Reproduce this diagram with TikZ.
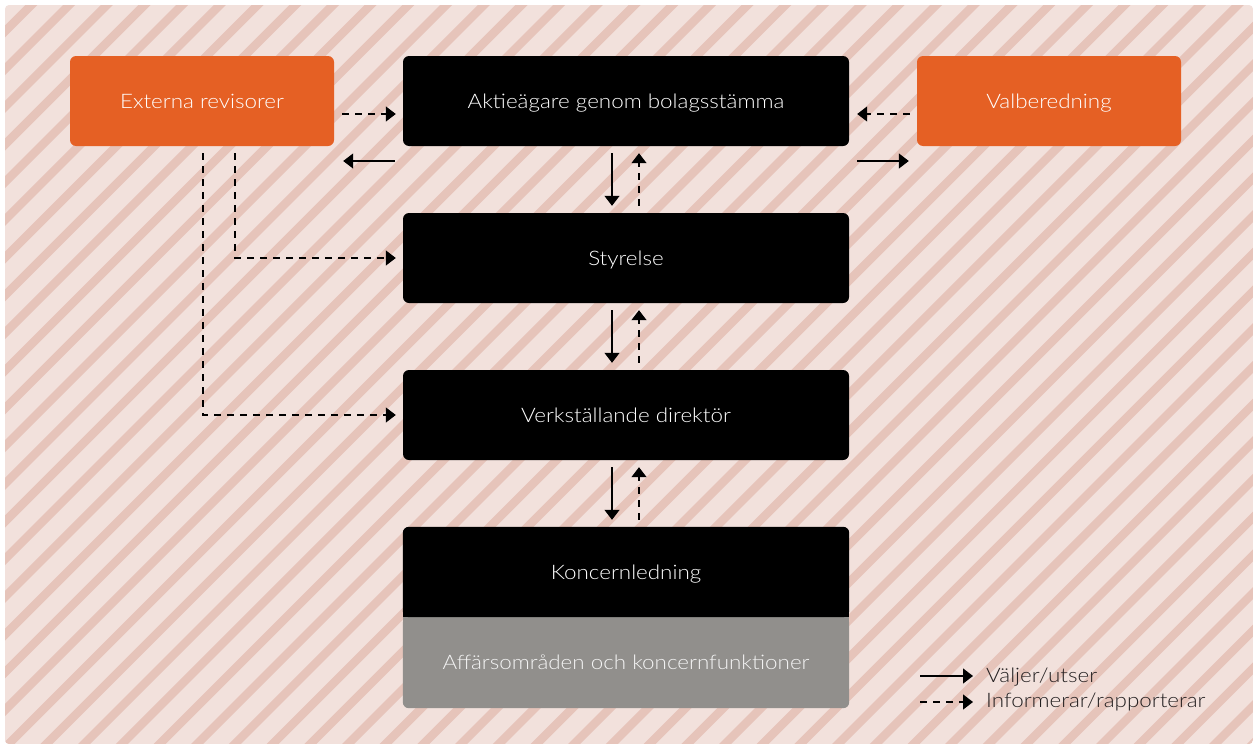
\documentclass[tikz,border=0pt]{standalone}
\usepackage{fontspec}
\setmainfont{Lato}[UprightFont=* Light, FakeStretch=1.12]
\usetikzlibrary{arrows.meta,calc}
\definecolor{bgpink}{HTML}{F2E1DC}
\definecolor{stripe}{HTML}{E6C4BA}
\definecolor{orng}{HTML}{E56024}
\definecolor{grayc}{HTML}{918F8C}
\definecolor{txtdark}{HTML}{231F20}
\pgfdeclarelayer{bgzero}
\pgfdeclarelayer{bgone}
\pgfsetlayers{bgzero,bgone,main}
\tikzset{
  box/.style={draw=none, inner sep=0pt, minimum width=446pt, minimum height=90pt, text=white, text height=16pt, text depth=2pt, font=\fontsize{20}{23}\selectfont},
  obox/.style={box, fill=orng, rounded corners=6pt, minimum width=264pt},
  bbox/.style={box, fill=black, rounded corners=6pt},
  sol/.style={line width=1.3pt, black, -{Triangle[length=10pt,width=15pt]}},
  dsh/.style={sol, dash pattern=on 7pt off 6pt},
  leg/.style={anchor=west, inner sep=0pt, text=txtdark, font=\fontsize{20}{23}\selectfont}
}
\begin{document}
\begin{tikzpicture}[x=1pt,y=-1pt]
\useasboundingbox (0,0) rectangle (1253,744);
\begin{pgfonlayer}{bgzero}
  \fill[white] (0,0) rectangle (1253,744);
  \fill[bgpink, rounded corners=4pt] (5,5) rectangle (1253,744);
  \begin{scope}
    \clip[rounded corners=4pt] (5,5) rectangle (1253,744);
    \foreach \k in {0,...,55} {
      \draw[stripe, line width=8.5pt] ({36.4+37.7*\k-760},760) -- ({36.4+37.7*\k},0);
    }
  \end{scope}
\end{pgfonlayer}

% nodes
\node[obox] (ext) at (202,101) {Externa revisorer};
\node[bbox] (akt) at (626,101) {Aktieägare genom bolagsstämma};
\node[obox] (val) at (1049,101) {Valberedning};
\node[bbox] (sty) at (626,258) {Styrelse};
\node[bbox] (vd) at (626,415) {Verkställande direktör};
\node[box] (kl) at (626,572) {Koncernledning};
\node[box, minimum height=91pt, text=white!90!grayc] (aff) at (626,662.5) {Affärsområden och koncernfunktioner};

\begin{pgfonlayer}{bgone}
  \fill[grayc, rounded corners=6pt] (aff.north west) rectangle (aff.south east);
  \fill[grayc] (aff.north west) rectangle ($(aff.east)$);
  \fill[black, rounded corners=6pt] (kl.north west) rectangle (kl.south east);
  \fill[black] (kl.west) rectangle (kl.south east);
\end{pgfonlayer}

% horizontal arrows at top
\draw[dsh] ($(ext.east)+(8,13)$) -- ($(akt.west)+(-7,13)$);
\draw[sol] ($(akt.west)+(-8,60)$) -- ($(ext.east)+(9,60)$);
\draw[dsh] ($(val.west)+(-7,13)$) -- ($(akt.east)+(8,13)$);
\draw[sol] ($(akt.east)+(8,60)$) -- ($(val.west)+(-8,60)$);

% vertical pairs
\draw[sol] ($(akt.south)+(-14,7)$) -- ($(sty.north)+(-14,-7)$);
\draw[dsh] ($(sty.north)+(13,-7)$) -- ($(akt.south)+(13,7)$);
\draw[sol] ($(sty.south)+(-14,7)$) -- ($(vd.north)+(-14,-7)$);
\draw[dsh] ($(vd.north)+(13,-7)$) -- ($(sty.south)+(13,7)$);
\draw[sol] ($(vd.south)+(-14,7)$) -- ($(kl.north)+(-14,-7)$);
\draw[dsh] ($(kl.north)+(13,-7)$) -- ($(vd.south)+(13,7)$);

% auditor lines
\draw[dsh] ($(ext.south)+(33,7)$) |- ($(sty.west)+(-7,0)$);
\draw[dsh] ($(ext.south)+(1,7)$) |- ($(vd.west)+(-7,0)$);

% legend
\node[leg] (l1) at (986,677) {Väljer/utser};
\node[leg] (l2) at (986,702) {Informerar/rapporterar};
\draw[sol] ($(l1.west)+(-66,-1)$) -- ($(l1.west)+(-13,-1)$);
\draw[dsh] ($(l2.west)+(-66,0)$) -- ($(l2.west)+(-13,0)$);
\end{tikzpicture}
\end{document}
